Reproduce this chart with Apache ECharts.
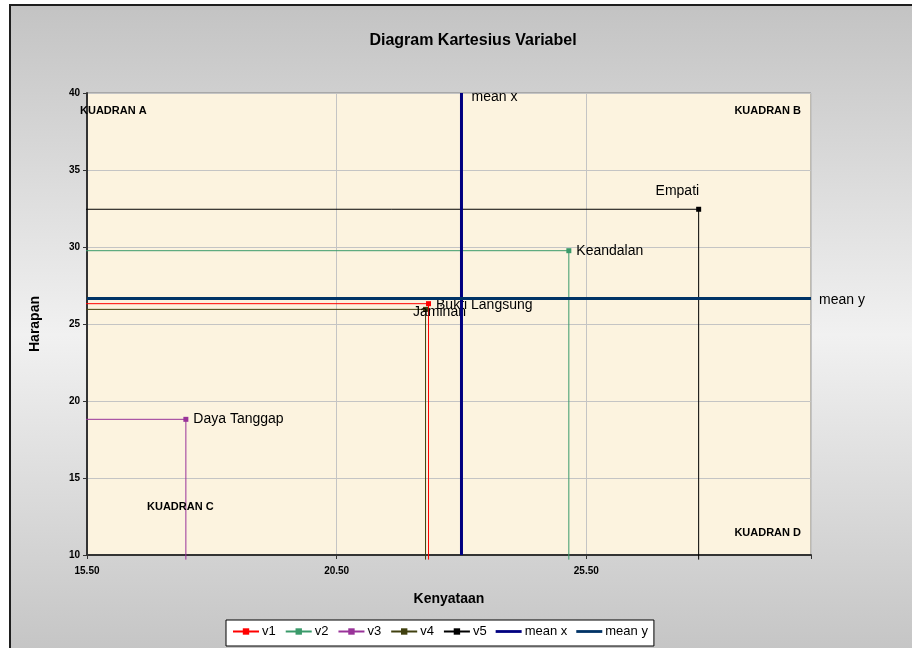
<!DOCTYPE html>
<html>
<head>
<meta charset="utf-8">
<script src="https://cdn.jsdelivr.net/npm/echarts@6/dist/echarts.min.js"></script>
<style>
  html, body { margin: 0; padding: 0; background: #fff; }
  #chart { width: 912px; height: 648px; }
</style>
</head>
<body>
<div id="chart"></div>
<script>
  // data dimensi layanan
  const seriesNames = ['v1', 'v2', 'v3', 'v4', 'v5']
  const pointNames = ['Bukti Langsung', 'Keandalan', 'Daya Tanggap', 'Jaminan', 'Empati']
  const kenyataan = [22.34, 25.15, 17.48, 22.28, 27.75]
  const harapan = [26.32, 29.76, 18.81, 25.95, 32.45]
  const xMin = 15.5, xMax = 30, xStep = 5
  const yMin = 10, yMax = 40, yStep = 5
  // garis bantu mulai sedikit di luar sumbu (seperti di Excel)
  const lineStartX = 15.4
  const lineEndY = 9.7

  const colors = ['#ff0000', '#3a9a6a', '#993399', '#40400f', '#000000']
  const labelPos = [
    { position: 'right', offset: [0, 1] },
    { position: 'right', offset: [0, 0] },
    { position: 'right', offset: [0, 0] },
    { position: 'right', offset: [-20, 3] },
    { position: 'left', offset: [8, -18] }
  ]

  const meanX = kenyataan.reduce((a, b) => a + b, 0) / kenyataan.length
  const meanY = harapan.reduce((a, b) => a + b, 0) / harapan.length

  let myChart = echarts.init(document.getElementById('chart'))

  let series = seriesNames.map((name, i) => {
    return {
      name: name,
      type: 'line',
      clip: false,
      color: colors[i],
      lineStyle: { width: 1, color: colors[i] },
      symbol: 'rect',
      symbolSize: 5,
      itemStyle: { color: colors[i] },
      z: 3,
      data: [
        { value: [lineStartX, harapan[i]], symbol: 'none' },
        {
          value: [kenyataan[i], harapan[i]],
          label: {
            show: true,
            position: labelPos[i].position,
            offset: labelPos[i].offset,
            formatter: pointNames[i],
            fontFamily: 'Liberation Sans',
            fontSize: 14,
            color: '#000'
          }
        },
        { value: [kenyataan[i], lineEndY], symbol: 'none' }
      ]
    }
  })

  series.push({
    name: 'mean x',
    type: 'line',
    color: '#000080',
    symbol: 'none',
    lineStyle: { width: 3, color: '#000080' },
    z: 4,
    endLabel: {
      show: true,
      formatter: 'mean x',
      offset: [2, 4],
      fontFamily: 'Liberation Sans',
      fontSize: 14,
      color: '#000'
    },
    data: [[meanX, yMin], [meanX, yMax]]
  })
  series.push({
    name: 'mean y',
    type: 'line',
    color: '#003366',
    symbol: 'none',
    lineStyle: { width: 3, color: '#003366' },
    z: 4,
    endLabel: {
      show: true,
      formatter: 'mean y',
      offset: [0, 2],
      fontFamily: 'Liberation Sans',
      fontSize: 14,
      color: '#000'
    },
    data: [[xMin, meanY], [xMax, meanY]]
  })

  const quadText = (text, x, y, align) => ({
    type: 'text',
    x: x,
    y: y,
    z: 10,
    style: {
      text: text,
      fill: '#000',
      font: 'bold 11px "Liberation Sans"',
      textAlign: align || 'left',
      textVerticalAlign: 'middle'
    }
  })

  // ikon legenda garis tebal (tanpa marker)
  const thickLine = 'path://M0,0L0,0M26,8L26,8M0,2.6L26,2.6L26,5.4L0,5.4Z'

  myChart.setOption({
    animation: false,
    textStyle: { fontFamily: 'Liberation Sans' },
    title: {
      text: 'Diagram Kartesius Variabel',
      left: 468,
      textAlign: 'center',
      top: 28,
      textStyle: { fontSize: 16, fontWeight: 'bold', color: '#000' }
    },
    graphic: [
      {
        type: 'rect',
        z: -10,
        silent: true,
        shape: { x: 10, y: 5, width: 920, height: 660 },
        style: {
          fill: new echarts.graphic.LinearGradient(0, 0, 0, 1, [
            { offset: 0, color: '#c3c3c3' },
            { offset: 0.5, color: '#f1f1f1' },
            { offset: 1, color: '#c3c3c3' }
          ]),
          stroke: '#1e1e1e',
          lineWidth: 2
        }
      },
      quadText('KUADRAN A', 80, 111),
      quadText('KUADRAN B', 801, 111, 'right'),
      quadText('KUADRAN C', 147, 507),
      quadText('KUADRAN D', 801, 533, 'right')
    ],
    grid: {
      left: 87,
      right: 101,
      top: 93,
      bottom: 93,
      show: true,
      backgroundColor: '#fcf3df',
      borderColor: '#808080',
      borderWidth: 1
    },
    legend: {
      left: 226,
      top: 620,
      padding: [5, 6, 8, 6],
      itemGap: 9,
      itemWidth: 26,
      itemHeight: 8,
      backgroundColor: '#ffffff',
      borderColor: '#000',
      borderWidth: 1,
      borderRadius: 0,
      textStyle: { fontSize: 13, color: '#000', fontFamily: 'Liberation Sans', padding: [0, 0, 0, -2] },
      data: ['v1', 'v2', 'v3', 'v4', 'v5',
        { name: 'mean x', icon: thickLine },
        { name: 'mean y', icon: thickLine }]
    },
    xAxis: {
      type: 'value',
      min: xMin,
      max: xMax,
      interval: xStep,
      name: 'Kenyataan',
      nameLocation: 'middle',
      nameGap: 37,
      nameTextStyle: { fontSize: 14, fontWeight: 'bold', color: '#000' },
      axisLine: { show: true, lineStyle: { color: '#333', width: 2 } },
      axisTick: { show: true, length: 4, lineStyle: { color: '#333' } },
      axisLabel: {
        margin: 11,
        fontSize: 10,
        fontWeight: 'bold',
        color: '#000',
        formatter: v => (v === xMax ? '' : v.toFixed(2))
      },
      splitLine: { show: true, lineStyle: { color: '#c4c4c4', width: 1 } }
    },
    yAxis: {
      type: 'value',
      min: yMin,
      max: yMax,
      interval: yStep,
      name: 'Harapan',
      nameLocation: 'middle',
      nameGap: 45,
      nameTextStyle: { fontSize: 14, fontWeight: 'bold', color: '#000' },
      axisLine: { show: true, lineStyle: { color: '#333', width: 2 } },
      axisTick: { show: true, length: 4, lineStyle: { color: '#333' } },
      axisLabel: { margin: 7, fontSize: 10, fontWeight: 'bold', color: '#000' },
      splitLine: { show: true, lineStyle: { color: '#c4c4c4', width: 1 } }
    },
    series: series
  })
</script>
</body>
</html>
